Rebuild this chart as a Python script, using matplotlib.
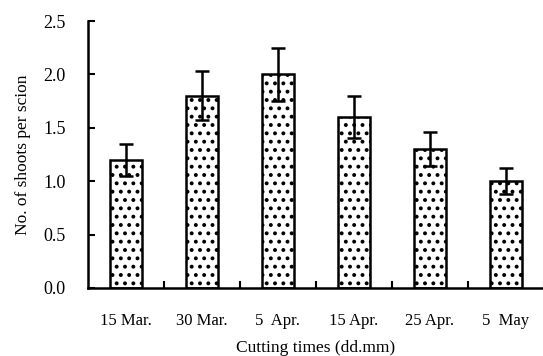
import matplotlib
matplotlib.use("Agg")
import matplotlib.pyplot as plt
import numpy as np

categories = ["15 Mar.", "30 Mar.", "5  Apr.", "15 Apr.", "25 Apr.", "5  May"]
values = [1.2, 1.8, 2.0, 1.6, 1.3, 1.0]
errors = [0.15, 0.23, 0.25, 0.20, 0.16, 0.12]
yticks = [0.0, 0.5, 1.0, 1.5, 2.0, 2.5]

plt.rcParams['font.family'] = ['Liberation Serif', 'DejaVu Serif']
plt.rcParams['hatch.linewidth'] = 1.6

fig = plt.figure(figsize=(5.43, 3.56), dpi=100)
ax = fig.add_axes([88/543, 68/356, 456/543, 267/356])

x = np.arange(len(categories))
ax.bar(x, values, width=0.42, color='white', edgecolor='black', linewidth=1.8,
       hatch='..', zorder=2)
ax.errorbar(x, values, yerr=errors, fmt='none', ecolor='black', elinewidth=1.8,
            capsize=5, capthick=1.8, zorder=3)

ax.set_xlim(-0.5, len(categories) - 0.5)
ax.set_ylim(0, 2.5)
ax.set_yticks(yticks)
ax.set_yticklabels([f"{v:.1f}" for v in yticks])
ax.set_xticks(x)
ax.set_xticklabels(categories)
ax.set_xticks(np.arange(0.5, len(categories)), minor=True)

for s in ['top', 'right']:
    ax.spines[s].set_visible(False)
for s in ['left', 'bottom']:
    ax.spines[s].set_linewidth(1.8)

ax.tick_params(axis='y', direction='in', length=5, width=1.5, labelsize=13, pad=16)
ax.tick_params(axis='x', which='major', length=0, labelsize=12, pad=18)
ax.tick_params(axis='x', which='minor', direction='in', length=5, width=1.5)

ax.set_ylabel("No. of shoots per scion", fontsize=12.5, labelpad=9)
ax.set_xlabel("Cutting times (dd.mm)", fontsize=12.5, labelpad=8)

fig.savefig("out.png", dpi=100)
